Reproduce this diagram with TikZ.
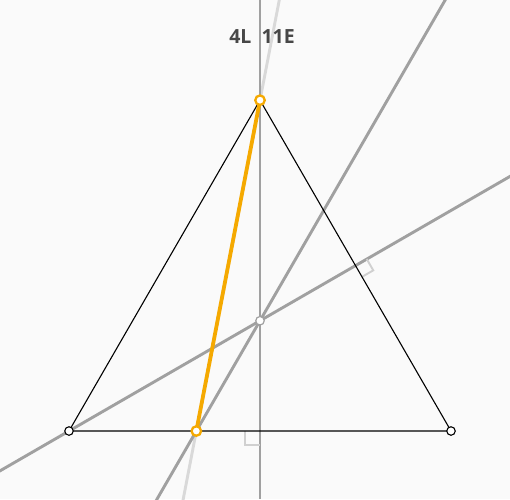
\documentclass[tikz,border=0pt]{standalone}
\usepackage{fontspec}
\setmainfont{Open Sans}
\usetikzlibrary{calc}
\definecolor{bgc}{HTML}{FAFAFA}
\definecolor{linegray}{HTML}{A0A0A0}
\definecolor{lightgray2}{HTML}{D9D9D9}
\definecolor{markgray}{HTML}{D0D0D0}
\definecolor{orangec}{HTML}{F5A900}
\definecolor{titlec}{HTML}{474747}
\tikzset{
  construct/.style={draw=linegray, line width=2.9pt},
  faint/.style={draw=lightgray2, line width=2.9pt},
  tri/.style={draw=black, line width=1.1pt},
  seg/.style={draw=orangec, line width=3.8pt},
  ramark/.style={draw=markgray, line width=1.9pt},
  pt/.style={circle, fill=white, draw=black, line width=1.1pt, inner sep=0pt, minimum size=8.5pt},
  ptgray/.style={circle, fill=white, draw=linegray, line width=1.2pt, inner sep=0pt, minimum size=8.5pt},
  ptorange/.style={circle, fill=white, draw=orangec, line width=2.3pt, inner sep=0pt, minimum size=9.5pt},
}
\begin{document}
\begin{tikzpicture}[x=1pt,y=-1pt]
\fill[bgc] (0,0) rectangle (510,499);
\useasboundingbox (0,0) rectangle (510,499);
\coordinate (A) at (69,431);
\coordinate (B) at (451,431);
\coordinate (C) at (260,100.18);
\coordinate (O) at (260,320.73);
\coordinate (P) at (196.33,431);
\coordinate (M) at (355.5,265.59);
\coordinate (F) at (260,431);
\coordinate (Vt) at (260,0);
\coordinate (Vb) at (260,499);
\begin{scope}
\clip (0,0) rectangle (510,499);
\draw[faint] ($(P)!-3!(C)$) -- ($(P)!4!(C)$);
\draw[construct] (Vt) -- (Vb);
\draw[construct] ($(A)!-3!(O)$) -- ($(A)!4!(O)$);
\draw[construct] ($(P)!-3!(O)$) -- ($(P)!4!(O)$);
\end{scope}
% right angle markers
\draw[ramark] (366.76,259.09) -- (373.26,270.35) -- (362,276.85);
\draw[ramark] (245,431) -- (245,445) -- (260,445);
\draw[tri] (A) -- (B) -- (C) -- cycle;
\draw[seg] (C) -- (P);
\node[pt] (nA) at (A) {};
\node[pt] (nB) at (B) {};
\node[ptgray] (nO) at (O) {};
\node[ptorange] (nC) at (C) {};
\node[ptorange] (nP) at (P) {};
\node[text=titlec, font=\fontsize{19.5}{22}\selectfont\bfseries, anchor=base] (title) at (262,43.5) {4L\ \ 11E};
\end{tikzpicture}
\end{document}
